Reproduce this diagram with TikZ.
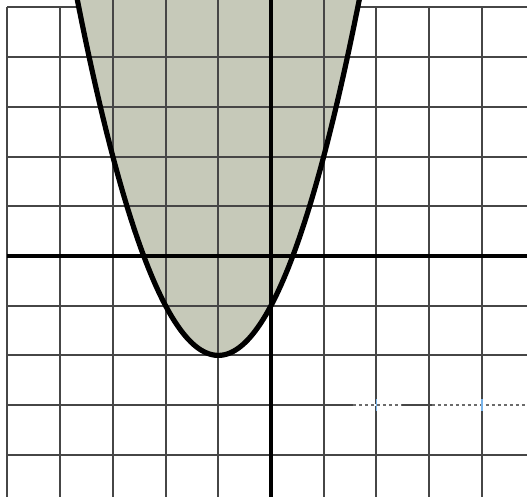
\documentclass[tikz,border=0pt]{standalone}
\usepackage{amssymb,amsmath}
\usepackage{tikz}

\definecolor{plotfill}{RGB}{198,201,185}
\definecolor{gridgray}{RGB}{70,70,70}
\definecolor{tickblue}{RGB}{120,180,235}

\begin{document}
\begin{tikzpicture}[x=26.35pt, y=24.85pt]
    % Picture frame (margins of the reference)
    \useasboundingbox (-5.142,-4.849) rectangle (4.858,5.151);
    \clip (-5.142,-4.849) rectangle (4.858,5.151);

    % Region above the parabola (shaded, runs up to the top edge)
    \fill[plotfill] plot[domain=-3.68:1.68, samples=120, smooth] (\x, {\x*\x+2*\x-1}) -- cycle;

    % Grid (drawn after fill so it appears on top)
    \foreach \x in {-5,-4,2,3,4,5}
        \draw[gridgray, line width=1pt] (\x,-5) -- (\x,5);
    \foreach \x in {-3,-2,-1,1}
        \draw[gridgray, line width=1pt] (\x,-5) -- (\x,5.3);
    \foreach \y in {-5,-4,-3,-2,-1,1,2,3,4}
        \draw[gridgray, line width=1pt] (-5,\y) -- (5,\y);
    % top border only outside the shaded region
    \draw[gridgray, line width=1pt] (-5,5) -- (-3.6458,5);
    \draw[gridgray, line width=1pt] (1.6458,5) -- (5,5);

    % Axes
    \draw[line width=2.1pt] (-5,0) -- (5,0);
    \draw[line width=1.8pt] (0,-5) -- (0,5.3);

    % Broken grid line at y = -3
    \foreach \a/\b in {1.556/2.486, 3.055/4.9}{
        \draw[white, line width=1.3pt] (\a,-3) -- (\b,-3);
        \draw[gridgray!80, line width=1pt, dash pattern=on 1.6pt off 1.4pt] (\a,-3) -- (\b,-3);
    }
    \foreach \x in {2,4}
        \draw[tickblue, line width=0.8pt] (\x,-3.12) -- (\x,-2.88);

    % Boundary parabola y = (x+1)^2 - 2
    \draw[line width=2.6pt] plot[domain=-3.68:1.68, samples=120, smooth] (\x, {\x*\x+2*\x-1});
\end{tikzpicture}
\end{document}
